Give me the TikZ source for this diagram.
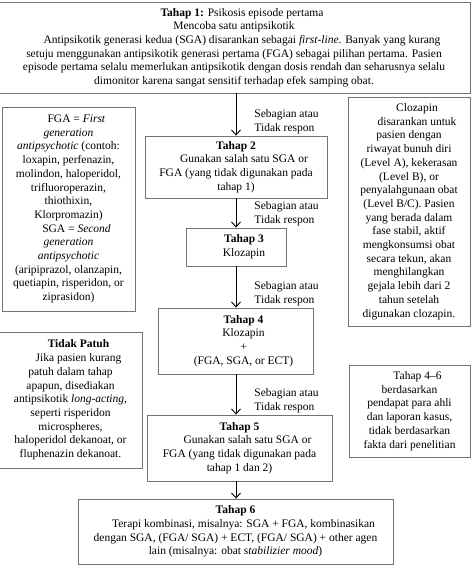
\documentclass[tikz,border=0pt]{standalone}
\usepackage{fontspec}
\setmainfont{Liberation Serif}
\usetikzlibrary{arrows.meta}
\newcommand{\ind}{\hspace*{16pt}}

\begin{document}
\begin{tikzpicture}[x=1pt,y=-1pt,>={Straight Barb[length=5pt,width=9pt]},
  box/.style={draw=black!55,line width=0.9pt,align=center,inner sep=1pt,font=\fontsize{11.5}{13.7}\selectfont},
  lbl/.style={pos=1,anchor=south west,align=left,xshift=17pt,inner sep=1pt,font=\fontsize{11.5}{13.7}\selectfont}]
\useasboundingbox (0,0) rectangle (474,576);
\node[box,minimum width=472pt,minimum height=91pt] (t1) at (234,47.5)
  {\ind\textbf{Tahap 1:} Psikosis episode pertama\\
   Mencoba satu antipsikotik\\
   \ind Antipsikotik generasi kedua (SGA) disarankan sebagai \textit{first-line}. Banyak yang kurang\\
   setuju menggunakan antipsikotik generasi pertama (FGA) sebagai pilihan pertama. Pasien\\
   episode pertama selalu memerlukan antipsikotik dengan dosis rendah dan seharusnya selalu\\
   dimonitor karena sangat sensitif terhadap efek samping obat.};
\node[box,minimum width=133pt,minimum height=204pt] (fga) at (68.5,209)
  {\ind FGA = \textit{First}\\ \textit{generation}\\ \textit{antipsychotic} (contoh:\\
   loxapin, perfenazin,\\ molindon, haloperidol,\\ trifluoroperazin,\\ thiothixin,\\ Klorpromazin)\\
   \ind SGA = \textit{Second}\\ \textit{generation}\\ \textit{antipsychotic}\\
   (aripiprazol, olanzapin,\\ quetiapin, risperidon, or\\ ziprasidon)};
\node[box,minimum width=182pt,minimum height=62pt] (t2) at (236,167)
  {\textbf{Tahap 2}\\ \ind Gunakan salah satu SGA or\\ FGA (yang tidak digunakan pada\\ tahap 1)};
\node[box,minimum width=100pt,minimum height=38pt] (t3) at (236,247)
  {\ind\textbf{Tahap 3}\\ \ind Klozapin};
\node[box,minimum width=122pt,minimum height=229pt] (cloz) at (409,211.5)
  {\ind Clozapin\\ \ind disarankan untuk\\ pasien dengan\\ riwayat bunuh diri\\
   (Level A), kekerasan\\ (Level B), or\\ penyalahgunaan obat\\ (Level B/C). Pasien\\
   yang berada dalam\\ fase stabil, aktif\\ mengkonsumsi obat\\ secara tekun, akan\\
   menghilangkan\\ gejala lebih dari 2\\ tahun setelah\\ digunakan clozapin.};
\node[box,minimum width=155pt,minimum height=66pt] (t4) at (235.5,341)
  {\ind\textbf{Tahap 4}\\ \ind Klozapin\\ \ind +\\ \ind (FGA, SGA, or ECT)};
\node[box,minimum width=143pt,minimum height=136pt] (patuh) at (70.5,400)
  {\ind\textbf{Tidak Patuh}\\ \ind Jika pasien kurang\\ patuh dalam tahap\\ apapun, disediakan\\
   antipsikotik \textit{long-acting},\\ seperti risperidon\\ microspheres,\\
   haloperidol dekanoat, or\\ fluphenazin dekanoat.};
\node[box,minimum width=121pt,minimum height=92pt] (t46) at (409.5,411)
  {\ind Tahap 4--6\\ berdasarkan\\ pendapat para ahli\\ dan laporan kasus,\\
   tidak berdasarkan\\ fakta dari penelitian};
\node[box,minimum width=185pt,minimum height=66pt] (t5) at (239.5,448)
  {\textbf{Tahap 5}\\ \ind Gunakan salah satu SGA or\\ FGA (yang tidak digunakan pada\\ tahap 1 dan 2)};
\node[box,minimum width=315pt,minimum height=65pt] (t6) at (235.5,531.5)
  {\textbf{Tahap 6}\\ \ind Terapi kombinasi, misalnya: SGA + FGA, kombinasikan\\
   dengan SGA, (FGA/ SGA) + ECT, (FGA/ SGA) + other agen\\
   lain (misalnya: obat s\textit{tabilizier mood})};
\path[->,line width=0.9pt]
  (t1.south -| t3) edge node[lbl] {Sebagian atau\\Tidak respon} (t2.north -| t3)
  (t2.south -| t3) edge node[lbl] {Sebagian atau\\Tidak respon} (t3.north)
  (t3.south) edge node[lbl] {Sebagian atau\\Tidak respon} (t4.north -| t3)
  (t4.south -| t3) edge node[lbl] {Sebagian atau\\Tidak respon} (t5.north -| t3)
  (t5.south -| t3) edge (t6.north -| t3);
\end{tikzpicture}
\end{document}
